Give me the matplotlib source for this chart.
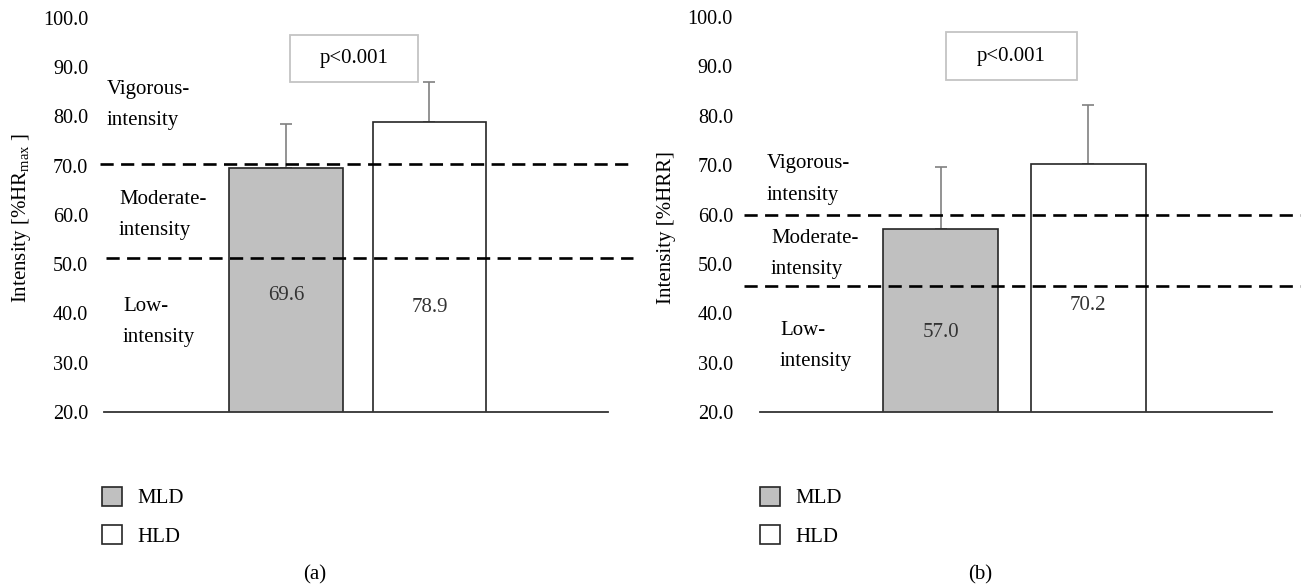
"""Exercise intensity (MLD vs HLD) as %HRmax and %HRR, two panels."""
import numpy as np
import matplotlib
matplotlib.use("Agg")
import matplotlib.pyplot as plt
from matplotlib.patches import Rectangle

# data
groups = ["MLD", "HLD"]
hrmax_mean = [69.6, 78.9]
hrmax_sd = [8.8, 8.2]
hrr_mean = [57.0, 70.2]
hrr_sd = [12.6, 11.9]
hrmax_cutoffs = [70.4, 51.2]
hrr_cutoffs = [60.0, 45.5]
zone_labels = ["Vigorous-\nintensity", "Moderate-\nintensity", "Low-\nintensity"]
p_text = "p<0.001"
y_ticks = [20, 30, 40, 50, 60, 70, 80, 90, 100]

BAR_COLORS = ["#c0c0c0", "#ffffff"]
FS = 15        # annotation text
FS_TICK = 14.5

plt.rcParams.update({
    "font.family": "Liberation Serif",
    "font.size": FS,
    "mathtext.fontset": "custom",
    "mathtext.rm": "Liberation Serif",
    "mathtext.it": "Liberation Serif:italic",
})

W, H = 1302, 588
fig = plt.figure(figsize=(W / 100, H / 100), dpi=100)


def px_axes(x0, x1, y_top, y_bot):
    return fig.add_axes([x0 / W, 1 - y_bot / H, (x1 - x0) / W, (y_bot - y_top) / H])


def draw_panel(ax, means, sds, cutoffs, xlim, width, ylabel, ylab_x, ylab_y,
               zone_pos, val_y, box, line_x, tick_pad):
    x = np.arange(len(groups))
    bars = ax.bar(x, means, width=width, color=BAR_COLORS, edgecolor="#262626",
                  linewidth=1.2, zorder=2)
    ax.errorbar(x, means, yerr=[np.zeros(len(sds)), sds], fmt="none",
                ecolor="#808080", elinewidth=1.2, capsize=4, capthick=1.2, zorder=1)
    for (x0, x1), c in zip(line_x, cutoffs):
        ax.axhline(c, xmin=x0, xmax=x1, color="black", lw=1.9,
                   linestyle=(0, (5, 2.8)), clip_on=False, zorder=3)
    for xi, m, vy in zip(x, means, val_y):
        ax.text(xi, vy, f"{m:.1f}", ha="center", va="center", color="#333333",
                fontsize=FS)
    for lab, (zx, zy) in zip(zone_labels, zone_pos):
        ax.text(zx, zy, lab, ha="left", va="center", linespacing=1.9,
                multialignment="left", fontsize=FS)
    bx0, bx1, by0, by1 = box
    ax.add_patch(Rectangle((bx0, by0), bx1 - bx0, by1 - by0, facecolor="white",
                           edgecolor="#c4c4c4", lw=1.3, clip_on=False, zorder=4))
    ax.text((bx0 + bx1) / 2, (by0 + by1) / 2, p_text, ha="center", va="center",
            fontsize=FS, zorder=5)

    ax.set_xlim(*xlim)
    ax.set_ylim(20, 100)
    ax.set_yticks(y_ticks)
    ax.set_yticklabels([f"{t:.1f}" for t in y_ticks])
    ax.set_xticks([])
    ax.tick_params(axis="y", length=0, pad=tick_pad, labelsize=FS_TICK)
    for s in ["top", "right", "left"]:
        ax.spines[s].set_visible(False)
    ax.spines["bottom"].set_color("#333333")
    ax.spines["bottom"].set_linewidth(1.3)
    ax.text(ylab_x, ylab_y, ylabel, rotation=90, ha="center", va="center",
            transform=ax.transAxes, fontsize=FS)
    return bars


ax1 = px_axes(104, 608, 18, 412)
bars = draw_panel(
    ax1, hrmax_mean, hrmax_sd, hrmax_cutoffs,
    xlim=(-1.268, 2.244), width=0.794,
    ylabel="Intensity [%HR$_{\\mathrm{max}}$ ]", ylab_x=-0.163, ylab_y=0.492,
    zone_pos=[(-1.247, 82.3), (-1.164, 60.0), (-1.136, 38.3)],
    val_y=[43.6, 41.3], box=(0.028, 0.92, 87.0, 96.5),
    line_x=[(-0.008, 1.05), (0.004, 1.05)], tick_pad=11.5,
)

ax2 = px_axes(760, 1272, 17, 412)
draw_panel(
    ax2, hrr_mean, hrr_sd, hrr_cutoffs,
    xlim=(-1.224, 2.247), width=0.78,
    ylabel="Intensity [%HRR]", ylab_x=-0.182, ylab_y=0.468,
    zone_pos=[(-1.176, 67.1), (-1.149, 52.0), (-1.088, 33.4)],
    val_y=[36.2, 41.5], box=(0.037, 0.925, 87.2, 96.9),
    line_x=[(-0.031, 1.055), (-0.031, 1.055)], tick_pad=19.5,
)

for lx in (102, 760):
    fig.legend(bars.patches, groups, loc="upper left",
               bbox_to_anchor=(lx / W, 1 - 487 / H), frameon=False,
               handlelength=0.95, handleheight=1.0, handletextpad=0.75,
               labelspacing=0.8, borderpad=0, borderaxespad=0, fontsize=FS)

fig.text(315 / W, 1 - 575 / H, "(a)", ha="center", va="center", fontsize=FS)
fig.text(980 / W, 1 - 575 / H, "(b)", ha="center", va="center", fontsize=FS)

fig.savefig("out.png", dpi=100)
